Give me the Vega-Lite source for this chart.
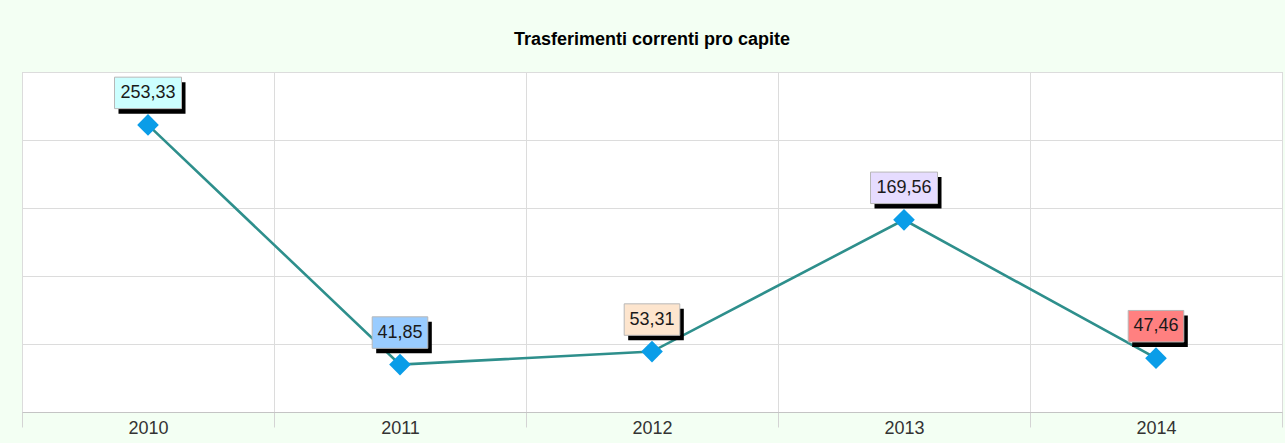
{
  "$schema": "https://vega.github.io/schema/vega-lite/v6.json",
  "width": 1260,
  "height": 340,
  "autosize": {"type": "none"},
  "padding": {"left": 22, "top": 72, "right": 3, "bottom": 31},
  "background": "#F3FFF3",
  "title": {
    "text": "Trasferimenti correnti pro capite",
    "font": "Liberation Sans",
    "fontSize": 18,
    "fontWeight": "bold",
    "color": "#000000",
    "anchor": "middle",
    "offset": 23
  },
  "data": {
    "values": [
      {"year": "2010", "value": 253.33},
      {"year": "2011", "value": 41.85},
      {"year": "2012", "value": 53.31},
      {"year": "2013", "value": 169.56},
      {"year": "2014", "value": 47.46}
    ]
  },
  "encoding": {
    "x": {
      "field": "year",
      "type": "nominal",
      "scale": {"type": "band", "paddingInner": 0, "paddingOuter": 0},
      "axis": {
        "title": null,
        "labelAngle": 0,
        "labelFont": "Liberation Sans",
        "labelFontSize": 18,
        "labelColor": "#333333",
        "labelPadding": -8,
        "domainColor": "#C4C4C4",
        "tickColor": "#D4D4D4",
        "tickSize": 15,
        "tickBand": "extent",
        "grid": true,
        "gridColor": "#DCDCDC"
      }
    },
    "y": {
      "field": "value",
      "type": "quantitative",
      "scale": {"domain": [0, 300], "nice": false},
      "axis": {
        "title": null,
        "labels": false,
        "ticks": false,
        "domain": false,
        "grid": true,
        "gridColor": "#DCDCDC",
        "values": [0, 60, 120, 180, 240, 300]
      }
    }
  },
  "layer": [
    {"mark": {"type": "line", "color": "#2E8F8C", "strokeWidth": 2.6}},
    {"mark": {"type": "point", "shape": "diamond", "filled": true, "size": 470, "color": "#0A9DE8", "opacity": 1}},
    {
      "mark": {"type": "point", "filled": true, "opacity": 1, "color": "#000000", "xOffset": 4, "yOffset": -27, "size": 4489},
      "encoding": {
        "shape": {
          "field": "year",
          "type": "nominal",
          "legend": null,
          "scale": {
            "domain": ["2010", "2011", "2012", "2013", "2014"],
            "range": ["M-1,-0.47H1V0.47H-1Z", "M-0.83,-0.47H0.83V0.47H-0.83Z", "M-0.83,-0.47H0.83V0.47H-0.83Z", "M-1,-0.47H1V0.47H-1Z", "M-0.83,-0.47H0.83V0.47H-0.83Z"]
          }
        }
      }
    },
    {
      "mark": {"type": "point", "filled": true, "opacity": 1, "stroke": "#B8B8B8", "strokeWidth": 1, "yOffset": -32, "size": 4489},
      "encoding": {
        "shape": {
          "field": "year",
          "type": "nominal",
          "legend": null,
          "scale": {
            "domain": ["2010", "2011", "2012", "2013", "2014"],
            "range": ["M-1,-0.47H1V0.47H-1Z", "M-0.83,-0.47H0.83V0.47H-0.83Z", "M-0.83,-0.47H0.83V0.47H-0.83Z", "M-1,-0.47H1V0.47H-1Z", "M-0.83,-0.47H0.83V0.47H-0.83Z"]
          }
        },
        "fill": {
          "field": "year",
          "type": "nominal",
          "legend": null,
          "scale": {
            "domain": ["2010", "2011", "2012", "2013", "2014"],
            "range": ["#CCFFFF", "#99CCFF", "#FDE5CE", "#E6DCFF", "#FF8080"]
          }
        }
      }
    },
    {
      "mark": {"type": "text", "font": "Liberation Sans", "fontSize": 18, "color": "#1A1A1A", "baseline": "middle", "align": "center", "yOffset": -32},
      "encoding": {
        "text": {"field": "value", "type": "quantitative", "format": ",.2f"}
      }
    }
  ],
  "config": {
    "locale": {
      "number": {"decimal": ",", "thousands": ".", "grouping": [3], "currency": ["€", ""]}
    },
    "view": {"stroke": "#C4C4C4", "fill": "#FFFFFF"}
  }
}
